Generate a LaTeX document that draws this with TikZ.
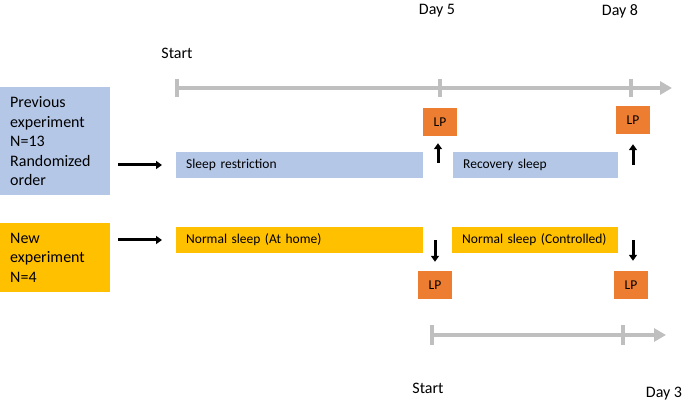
\documentclass[tikz,border=0pt]{standalone}
\usepackage{fontspec}
\setmainfont{Carlito}
\usepackage{tikz}
\usetikzlibrary{arrows.meta}
\usepackage{xcolor}
\definecolor{pale-blue}{HTML}{B4C7E7}
\definecolor{deep-yellow}{HTML}{FFC000}
\definecolor{lp-orange}{HTML}{ED7D31}
\colorlet{axis-grey}{black!25}

\tikzset{
    lbox/.style={anchor=north west, minimum width=110pt, text width=90pt, inner xsep=10pt, align=left,
        font=\fontsize{16}{19.5}\selectfont},
    bar/.style={anchor=west, minimum height=26pt, inner ysep=0pt, inner xsep=10pt, align=left,
        font=\fontsize{13.5}{16}\selectfont},
    lp/.style={fill=lp-orange, minimum width=34pt, minimum height=28pt, inner sep=0pt,
        font=\fontsize{13.5}{16}\selectfont},
    label/.style={font=\fontsize{16}{19}\selectfont},
    tline/.style={axis-grey, line width=4pt, -{Triangle[length=12pt, width=13pt]}},
    tick/.style={axis-grey, line width=4.5pt},
    tip/.style={line width=3pt, -{Triangle[length=6pt, width=8pt]}}
}

\begin{document}
\begin{tikzpicture}[x=1pt, y=-1pt]
    \useasboundingbox (0, 0) rectangle (685, 403);

    % upper time line
    \coordinate (t0) at (177, 88);
    \coordinate (t5) at (440, 88);
    \coordinate (t8) at (631, 88);
    \coordinate (tend) at (672, 88);
    \draw[tline] (t0) -- (tend);
    \foreach \p in {t0, t5, t8}
        \draw[tick] ([yshift=9pt]\p) -- ([yshift=-9pt]\p);
    \node[label] (start-a) at (177, 53) {Start};
    \node[label] (day-5) at (437, 11) {Day 5};
    \node[label] (day-8) at (620, 11) {Day 8};

    % previous experiment
    \node[lbox, fill=pale-blue, minimum height=108pt] (prev) at (0, 87)
        {Previous\\experiment\\N=13\\Randomized\\order};
    \node[bar, fill=pale-blue, minimum width=247pt, text width=227pt] (restr) at (176, 165) {Sleep restriction};
    \node[bar, fill=pale-blue, minimum width=165pt, text width=145pt] (recov) at (453, 165) {Recovery sleep};
    \node[lp] (lp-a) at (440, 122) {LP};
    \node[lp] (lp-b) at (633, 120) {LP};
    \draw[tip, shorten <=8pt, shorten >=14pt] (prev.east |- restr.west) -- (restr.west);
    \draw[tip, shorten <=2pt, shorten >=7pt] ([xshift=-2pt]lp-a.south |- restr.east) -- ([xshift=-2pt]lp-a.south);
    \draw[tip, shorten <=0pt, shorten >=10pt] (lp-b.south |- recov.east) -- (lp-b.south);

    % new experiment
    \node[lbox, fill=deep-yellow, minimum height=69pt] (new) at (0, 223)
        {New\\experiment\\N=4};
    \node[bar, fill=deep-yellow, minimum width=247pt, text width=227pt] (home) at (176, 240) {Normal sleep (At home)};
    \node[bar, fill=deep-yellow, minimum width=166pt, text width=146pt] (ctrl) at (452, 240) {Normal sleep (Controlled)};
    \node[lp] (lp-c) at (435, 285) {LP};
    \node[lp] (lp-d) at (631, 285) {LP};
    \draw[tip, shorten <=8pt, shorten >=14pt] (new.east |- home.west) -- (home.west);
    \draw[tip, shorten >=9pt] (lp-c.north |- home.east) -- (lp-c.north);
    \draw[tip, shorten >=10pt] ([xshift=2pt]lp-d.north |- ctrl.east) -- ([xshift=2pt]lp-d.north);

    % lower time line
    \coordinate (s0) at (432, 335);
    \coordinate (s3) at (623, 335);
    \coordinate (send) at (666, 335);
    \draw[tline] (s0) -- (send);
    \foreach \p in {s0, s3}
        \draw[tick] ([yshift=10pt]\p) -- ([yshift=-10pt]\p);
    \node[label] (start-b) at (428, 388) {Start};
    \node[label] (day-3) at (664, 394) {Day 3};
\end{tikzpicture}
\end{document}
